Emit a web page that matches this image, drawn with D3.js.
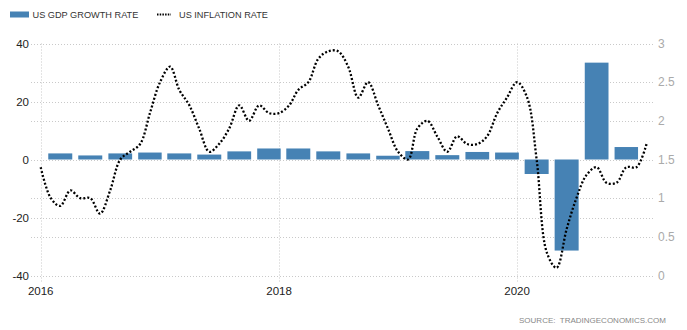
<!DOCTYPE html>
<html>
<head>
<meta charset="utf-8">
<script src="https://cdn.jsdelivr.net/npm/d3@7"></script>
<style>
  html, body { margin: 0; padding: 0; background: #fff; }
  svg { display: block; font-family: "Liberation Sans", Arial, sans-serif; }
</style>
</head>
<body>
<svg id="chart" width="687" height="330"></svg>
<script>
// ---- data ----
const gdpQuarters = ["2016-03-01","2016-06-01","2016-09-01","2016-12-01",
  "2017-03-01","2017-06-01","2017-09-01","2017-12-01",
  "2018-03-01","2018-06-01","2018-09-01","2018-12-01",
  "2019-03-01","2019-06-01","2019-09-01","2019-12-01",
  "2020-03-01","2020-06-01","2020-09-01","2020-12-01"];
const gdpGrowth = [2.1, 1.4, 2.1, 2.4, 2.1, 1.7, 2.8, 3.8, 3.8, 2.8, 2.1, 1.3,
  2.9, 1.5, 2.6, 2.4, -5.0, -31.4, 33.4, 4.3];

const inflationStart = "2016-01-01";
const inflationRate = [
  1.4, 1.0, 0.9, 1.1, 1.0, 1.0, 0.8, 1.1, 1.5, 1.6, 1.7, 2.1,   // 2016
  2.5, 2.7, 2.4, 2.2, 1.9, 1.6, 1.7, 1.9, 2.2, 2.0, 2.2, 2.1,   // 2017
  2.1, 2.2, 2.4, 2.5, 2.8, 2.9, 2.9, 2.7, 2.3, 2.5, 2.2, 1.9,   // 2018
  1.6, 1.5, 1.9, 2.0, 1.8, 1.6, 1.8, 1.7, 1.7, 1.8, 2.1, 2.3,   // 2019
  2.5, 2.3, 1.5, 0.3, 0.1, 0.6, 1.0, 1.3, 1.4, 1.2, 1.2, 1.4,   // 2020
  1.4, 1.7                                                      // 2021
];

const leftTicks = [-40, -20, 0, 20, 40];
const rightTicks = [0, 0.5, 1, 1.5, 2, 2.5, 3];
const yearTicks = ["2016", "2018", "2020"];
const seriesNames = ["US GDP GROWTH RATE", "US INFLATION RATE"];
const sourceText = "SOURCE:  TRADINGECONOMICS.COM";

// ---- layout ----
const svg = d3.select("#chart");
const parse = d3.timeParse("%Y-%m-%d");
const x = d3.scaleTime()
  .domain([parse("2016-01-01"), parse("2021-02-27")])
  .range([40.7, 655]);
const yL = d3.scaleLinear().domain([-40, 40]).range([275.5, 43.5]);
const yR = d3.scaleLinear().domain([0, 3]).range([275.5, 43.5]);

const gridColor = "#c9c9c9";

// horizontal gridlines
const gridYs = [...leftTicks.map(yL), ...rightTicks.map(yR)];
svg.append("g").selectAll("line").data(gridYs).join("line")
  .attr("x1", 31).attr("x2", 655)
  .attr("y1", d => Math.round(d) + 0.5).attr("y2", d => Math.round(d) + 0.5)
  .attr("stroke", gridColor).attr("stroke-width", 1)
  .attr("stroke-dasharray", "1,2");

// vertical gridlines at years
svg.append("g").selectAll("line").data(yearTicks).join("line")
  .attr("x1", d => Math.round(x(d3.timeParse("%Y")(d))) + 0.5)
  .attr("x2", d => Math.round(x(d3.timeParse("%Y")(d))) + 0.5)
  .attr("y1", 43.5).attr("y2", 282)
  .attr("stroke", gridColor).attr("stroke-width", 1)
  .attr("stroke-dasharray", "1,2");

// left axis labels
svg.append("g").selectAll("text").data(leftTicks).join("text")
  .attr("x", 29).attr("y", d => yL(d))
  .attr("dy", "0.35em").attr("text-anchor", "end")
  .attr("font-size", 11.5).attr("fill", "#222")
  .text(d => d);

// right axis labels
svg.append("g").selectAll("text").data(rightTicks).join("text")
  .attr("x", 658).attr("y", d => yR(d))
  .attr("dy", "0.35em").attr("text-anchor", "start")
  .attr("font-size", 12).attr("fill", "#aaa")
  .text(d => d);

// x axis labels
svg.append("g").selectAll("text").data(yearTicks).join("text")
  .attr("x", d => x(d3.timeParse("%Y")(d)))
  .attr("y", 291).attr("dy", "0.35em").attr("text-anchor", "middle")
  .attr("font-size", 11.5).attr("fill", "#222")
  .text(d => d);

// bars
const gdp = gdpQuarters.map((q, i) => ({ date: parse(q), value: gdpGrowth[i] }));
const barW = d => (x(d3.timeMonth.offset(d.date, 3)) - x(d.date)) * 0.8;
svg.append("g").selectAll("rect").data(gdp).join("rect")
  .attr("x", d => x(d.date) - barW(d) / 2)
  .attr("width", barW)
  .attr("y", d => Math.min(yL(d.value), yL(0)))
  .attr("height", d => Math.abs(yL(d.value) - yL(0)))
  .attr("fill", "#4682b4");

// inflation line
const start = parse(inflationStart);
const infl = inflationRate.map((v, i) => ({ date: d3.timeMonth.offset(start, i), value: v }));
const line = d3.line()
  .x(d => x(d.date)).y(d => yR(d.value))
  .curve(d3.curveCatmullRom.alpha(0.5));
svg.append("path").datum(infl)
  .attr("d", line)
  .attr("fill", "none").attr("stroke", "#000")
  .attr("stroke-width", 2.3).attr("stroke-dasharray", "2,2");

// legend
const lg = svg.append("g");
lg.append("rect").attr("x", 10).attr("y", 11.5).attr("width", 19).attr("height", 6)
  .attr("fill", "#4682b4");
lg.append("text").attr("x", 32.5).attr("y", 15).attr("dy", "0.35em")
  .attr("font-size", 9.2).attr("fill", "#333").text(seriesNames[0]);
lg.append("line").attr("x1", 157).attr("x2", 171).attr("y1", 14.5).attr("y2", 14.5)
  .attr("stroke", "#000").attr("stroke-width", 2).attr("stroke-dasharray", "1.5,1.2");
lg.append("text").attr("x", 179).attr("y", 15).attr("dy", "0.35em")
  .attr("font-size", 9.2).attr("fill", "#333").text(seriesNames[1]);

// source
svg.append("text").attr("x", 666).attr("y", 320.5).attr("dy", "0.35em")
  .attr("text-anchor", "end").attr("font-size", 8).attr("fill", "#888")
  .style("white-space", "pre")
  .text(sourceText);
</script>
</body>
</html>
